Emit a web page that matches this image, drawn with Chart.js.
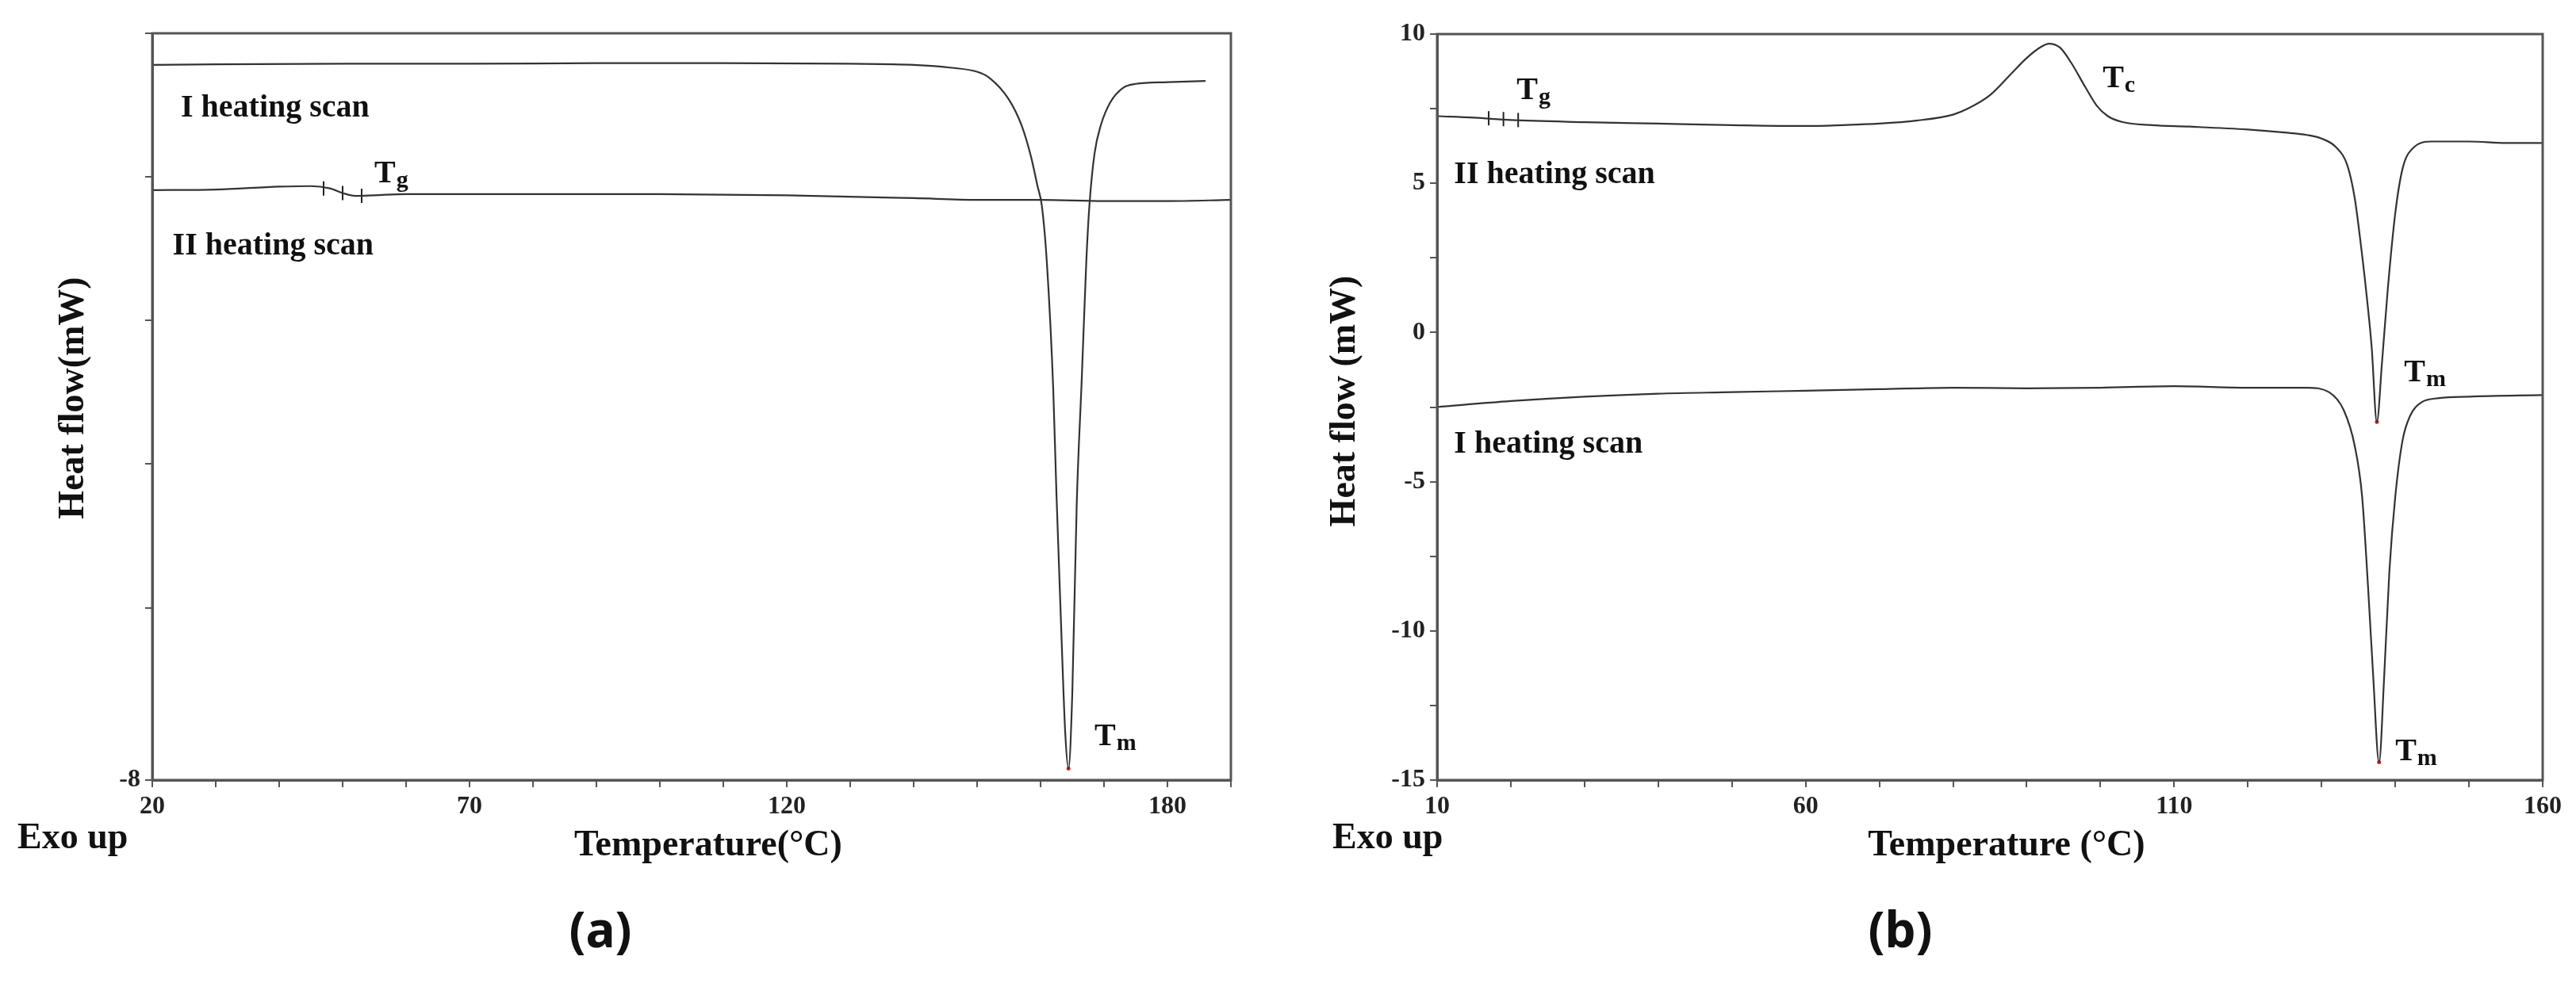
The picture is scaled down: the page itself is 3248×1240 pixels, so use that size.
<!DOCTYPE html>
<html><head><meta charset="utf-8">
<script src="https://cdn.jsdelivr.net/npm/chart.js@4"></script>
<style>body{margin:0;background:#fff;width:3248px;height:1240px;overflow:hidden;position:relative}
.w{position:absolute;top:0;width:1624px;height:1240px}</style></head><body>
<div class="w" style="left:0"><canvas id="ca"></canvas></div>
<div class="w" style="left:1624px"><canvas id="cb"></canvas></div>
<script>
// Panel (a)
const aScan1 = [[20,4.45],[30,4.46],[50,4.47],[70,4.47],[90,4.48],[110,4.48],[130,4.47],[140,4.45],[146,4.4],[150,4.33],[152,4.22],[155,3.85],[157,3.4],[158.5,2.85],[159.5,2.35],[160.2,2.0],[161,1.0],[162,-1.2],[162.5,-3],[163.3,-5.5],[163.9,-7.2],[164.4,-7.8],[165,-6.5],[165.7,-3.2],[166.5,-1],[167.2,1],[167.7,2],[168.5,2.9],[169.5,3.4],[171,3.8],[173,4.05],[175,4.12],[180,4.15],[186,4.17]];
const aScan2 = [[20,2.27],[30,2.28],[40,2.33],[45,2.34],[48,2.3],[50,2.22],[52,2.17],[55,2.18],[60,2.2],[80,2.2],[100,2.2],[120,2.18],[140,2.13],[150,2.1],[160,2.1],[170,2.08],[180,2.08],[190,2.1]];
const aTgMarks = [[47,2.3],[50,2.22],[53,2.17]];
const aMin = [[164.4,-7.8]];
const aXLabels = [20,70,120,180];
const aYLabels = [2,-3,-8];
const aNotes = [{t:"I heating scan",x:24.5,y:3.7},{t:"II heating scan",x:23.2,y:1.29},{t:"T",s:"g",x:55,y:2.55},{t:"T",s:"m",x:168.5,y:-7.25}];
// Panel (b)
const bScan2 = [[10,7.25],[15,7.2],[20,7.12],[30,7.05],[40,7.0],[50,6.95],[60,6.92],[65,6.95],[70,7.0],[75,7.1],[80,7.3],[82,7.5],[85,7.95],[88,8.7],[90,9.2],[92,9.58],[93,9.68],[94.5,9.55],[96,9.05],[98,8.2],[99.5,7.6],[101,7.25],[103,7.05],[107,6.95],[112,6.9],[120,6.8],[125,6.7],[128,6.62],[130,6.5],[132,6.2],[133.5,5.6],[134.5,4.5],[135.3,3],[136,1.5],[136.8,-0.5],[137.5,-3.0],[138.2,-1],[139,1.5],[140,4],[141,5.5],[142.5,6.2],[145,6.4],[150,6.4],[155,6.35],[160,6.35]];
const bScan1 = [[10,-2.5],[20,-2.3],[30,-2.15],[40,-2.05],[50,-2.0],[60,-1.95],[70,-1.9],[80,-1.85],[90,-1.87],[100,-1.85],[110,-1.8],[120,-1.85],[128,-1.85],[131,-2.0],[133,-2.6],[134.5,-3.8],[135.5,-5.5],[136.3,-8.5],[137,-11.5],[137.8,-14.4],[138.5,-11.5],[139.2,-8],[140,-5.5],[141,-3.6],[142,-2.8],[143.5,-2.35],[146,-2.2],[150,-2.15],[160,-2.1]];
const bTgMarks = [[17,7.18],[19,7.15],[21,7.12]];
const bMin = [[137.5,-3.0],[137.8,-14.4]];
const bXLabels = [10,60,110,160];
const bYLabels = [10,5,0,-5,-10,-15];
const bNotes = [{t:"II heating scan",x:12.3,y:5.27},{t:"I heating scan",x:12.3,y:-3.76},{t:"T",s:"g",x:20.8,y:8.1},{t:"T",s:"c",x:100.3,y:8.5},{t:"T",s:"m",x:141.2,y:-1.35},{t:"T",s:"m",x:140,y:-14.05}];

const SERIF='"Liberation Serif", "DejaVu Serif", serif';
const pts=a=>a.map(p=>({x:p[0],y:p[1]}));
const r1=v=>Math.round(v*100)/100;
function make(id,cfg){
  const line=(d)=>({type:'line',data:pts(d),borderColor:'#333',borderWidth:2.2,pointRadius:0,cubicInterpolationMode:'monotone',fill:false});
  const ds=cfg.series.map(line);
  ds.push({type:'scatter',data:pts(cfg.marks),pointStyle:'line',rotation:90,pointRadius:9,borderColor:'#222',borderWidth:2});
  ds.push({type:'scatter',data:pts(cfg.mins),pointRadius:2.5,backgroundColor:'#d22',borderWidth:0});
  const deco={id:'deco',afterDraw(ch){
    const c=ch.ctx,a=ch.chartArea,xs=ch.scales.x,ys=ch.scales.y;
    c.save();c.strokeStyle='#555';c.lineWidth=3;c.strokeRect(a.left,a.top,a.right-a.left,a.bottom-a.top);
    c.fillStyle='#111';c.textBaseline='middle';c.textAlign='left';
    cfg.notes.forEach(n=>{const px=xs.getPixelForValue(n.x),py=ys.getPixelForValue(n.y);
      c.font='bold 40px '+SERIF;c.fillText(n.t,px,py);
      if(n.s){const w=c.measureText(n.t).width;c.font='bold 30px '+SERIF;c.fillText(n.s,px+w+1,py+9);}});
    c.font='bold 46px '+SERIF;
    c.save();c.translate(cfg.ytx,cfg.yty);c.rotate(-Math.PI/2);c.textAlign='center';c.fillText(cfg.ytitle,0,0);c.restore();
    c.textAlign='center';c.fillText(cfg.xtitle,cfg.xtx,1067);
    c.textAlign='left';c.fillText('Exo up',cfg.exo,1058);
    c.font='bold 62px "Noto Sans", sans-serif';c.textAlign='center';c.fillText(cfg.tag,cfg.tagx,1177);
    c.restore();}};
  new Chart(document.getElementById(id),{data:{datasets:ds},plugins:[deco],
    options:{responsive:false,animation:false,devicePixelRatio:1,
      layout:{padding:{left:0,top:cfg.top,right:cfg.right,bottom:196}},
      plugins:{legend:{display:false},tooltip:{enabled:false}},
      scales:{
        x:{type:'linear',min:cfg.xmin,max:cfg.xmax,afterFit:s=>{s.height=60},
          border:{color:'#555',width:3},
          grid:{drawOnChartArea:false,color:'#555',lineWidth:2,tickLength:9},
          ticks:{stepSize:10,autoSkip:false,maxRotation:0,padding:6,color:'#222',font:{family:SERIF,size:32,weight:'bold'},
            callback:v=>cfg.xl.includes(r1(v))?String(r1(v)):''}},
        y:{type:'linear',min:cfg.ymin,max:cfg.ymax,afterFit:s=>{s.width=cfg.yw},
          border:{color:'#555',width:3},
          grid:{drawOnChartArea:false,color:'#555',lineWidth:2,tickLength:9},
          ticks:{stepSize:2.5,autoSkip:false,padding:6,color:'#222',font:{family:SERIF,size:32,weight:'bold'},
            callback:v=>cfg.yl.includes(r1(v))?String(r1(v)):''}}}}});
}
const ca=document.getElementById('ca');ca.width=1624;ca.height=1240;
const cb=document.getElementById('cb');cb.width=1624;cb.height=1240;
make('ca',{series:[aScan1,aScan2],marks:aTgMarks,mins:aMin,notes:aNotes,xl:aXLabels,yl:aYLabels,
  xmin:20,xmax:190,ymin:-8,ymax:5,top:42,right:72,yw:192,ytitle:'Heat flow(mW)',ytx:93,yty:502,
  xtitle:'Temperature(°C)',xtx:893,exo:22,tag:'(a)',tagx:757});
make('cb',{series:[bScan2,bScan1],marks:bTgMarks,mins:bMin,notes:bNotes,xl:bXLabels,yl:bYLabels,
  xmin:10,xmax:160,ymin:-15,ymax:10,top:43,right:42,yw:188,ytitle:'Heat flow (mW)',ytx:72,yty:506,
  xtitle:'Temperature (°C)',xtx:906,exo:56,tag:'(b)',tagx:772});
</script></body></html>
